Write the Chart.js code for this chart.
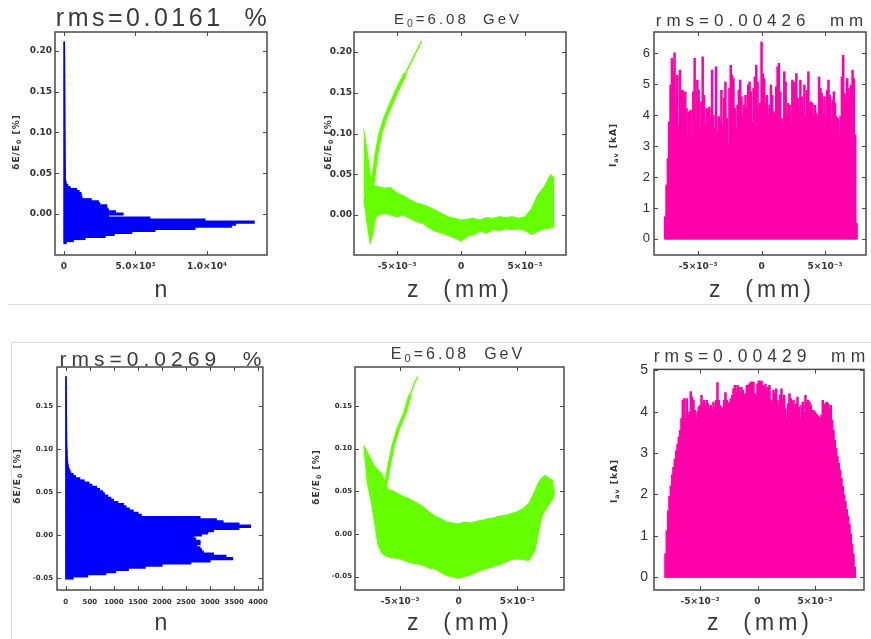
<!DOCTYPE html>
<html>
<head>
<meta charset="utf-8">
<script src="https://cdn.jsdelivr.net/npm/chart.js@4.4.0/dist/chart.umd.min.js"></script>
<style>
  body { margin: 0; background: #fff; width: 871px; height: 639px; position: relative; overflow: hidden; }
  canvas { position: absolute; }
  .t { position: absolute; transform: translate(-50%, -50%); white-space: pre; line-height: 1;
       font-family: "Liberation Sans", sans-serif; color: #3a3a3a; }
  .yt { position: absolute; transform: translate(-50%, -50%) rotate(-90deg); white-space: pre; line-height: 1;
        font: bold 9px "DejaVu Sans", sans-serif; color: #333; letter-spacing: 1px; }
  sub { font-size: 70%; vertical-align: -0.3em; line-height: 0; }
  .rule { position: absolute; background: #dcdcdc; }
</style>
</head>
<body>
<div class="rule" style="left:8px;top:304px;width:863px;height:1px"></div>
<div class="rule" style="left:11px;top:342px;width:860px;height:1px"></div>
<div class="rule" style="left:11px;top:342px;width:1px;height:297px"></div>

<canvas id="p1"></canvas>
<canvas id="p2"></canvas>
<canvas id="p3"></canvas>
<canvas id="p4"></canvas>
<canvas id="p5"></canvas>
<canvas id="p6"></canvas>

<!-- titles -->
<div class="t" style="left:163px;top:17px;font-size:25px;letter-spacing:3.5px">rms=0.0161  %</div>
<div class="t" style="left:458px;top:18px;font-size:15px;letter-spacing:3px">E<sub>0</sub>=6.08  GeV</div>
<div class="t" style="left:762px;top:20px;font-size:17px;letter-spacing:5px">rms=0.00426  mm</div>
<div class="t" style="left:163px;top:358px;font-size:21px;letter-spacing:5px">rms=0.0269  %</div>
<div class="t" style="left:458px;top:354px;font-size:16px;letter-spacing:3px">E<sub>0</sub>=6.08  GeV</div>
<div class="t" style="left:762px;top:357px;font-size:17.5px;letter-spacing:5px">rms=0.00429  mm</div>

<!-- x axis titles -->
<div class="t" style="left:161px;top:289px;font-size:23px">n</div>
<div class="t" style="left:460px;top:289px;font-size:23px;letter-spacing:4px">z  (mm)</div>
<div class="t" style="left:762px;top:289px;font-size:23px;letter-spacing:4px">z  (mm)</div>
<div class="t" style="left:161px;top:622px;font-size:23px">n</div>
<div class="t" style="left:460px;top:622px;font-size:23px;letter-spacing:4px">z  (mm)</div>
<div class="t" style="left:760px;top:622px;font-size:23px;letter-spacing:4px">z  (mm)</div>

<!-- y axis titles -->
<div class="yt" style="left:16px;top:142px">δE/E<sub>0</sub> [%]</div>
<div class="yt" style="left:328px;top:142px">δE/E<sub>0</sub> [%]</div>
<div class="yt" style="left:613px;top:145px">I<sub>av</sub> [kA]</div>
<div class="yt" style="left:17px;top:476px">δE/E<sub>0</sub> [%]</div>
<div class="yt" style="left:316px;top:477px">δE/E<sub>0</sub> [%]</div>
<div class="yt" style="left:614px;top:481px">I<sub>av</sub> [kA]</div>

<script>
// ---------- data ----------

// energy spectrum, top row: counts per δE/E0 bin (bins of 0.0025 %, first bin starts at -0.03625)
const specTopStart = -0.03625;
const specTopWidth = 0.0025;
const specTopCounts = [
  150, 650, 1470, 2870, 3500, 4730, 6360, 9160, 11700, 12000,
  13300, 9860, 6000, 3100, 4130, 3600, 3100, 3000, 2980, 2500,
  2400, 1900, 1250, 1200, 1190, 1050, 880, 420, 250, 150,
  120, 100, 80,
  100, 95, 90, 90, 85, 85, 80, 80, 80, 78,
  76, 75, 74, 72, 70, 70, 68, 68, 66, 65,
  64, 63, 62, 62, 60, 60, 60, 58, 58, 56,
  56, 55, 55, 54, 54, 52, 52, 50, 50, 50,
  48, 48, 47, 46, 45, 45, 44, 44, 43, 42,
  42, 41, 40, 40, 39, 38, 38, 37, 36, 35,
  34, 33, 32, 30, 28, 25
];

// energy spectrum, bottom row (bins of 0.0025 %, first bin starts at -0.05125)
const specBotStart = -0.05125;
const specBotWidth = 0.0025;
const specBotCounts = [
  150, 450, 830, 1035, 1300, 1650, 2000, 2600, 3000, 3470,
  3330, 3070, 2860, 2820, 2790, 2720, 2790, 2790, 2700, 2660,
  2820, 2950, 3070, 3600, 3840, 3600, 3270, 3130, 2790, 1570,
  1500, 1400, 1320, 1250, 1200, 1080, 990, 935, 870, 800,
  765, 700, 640, 540, 480, 380, 290, 200, 150, 100,
  80, 60, 50, 40,
  35, 30, 30, 25, 25, 25, 20, 20,
  18, 18, 18, 16, 16, 16, 15, 15, 15, 15,
  14, 14, 14, 14, 13, 13, 13, 12, 12, 12,
  12, 11, 11, 11, 10, 10, 10, 10, 9, 9,
  8, 8
];

// longitudinal phase space, top row: edges of the particle cloud (z in mm, δE/E0 in %)
const cloudTopZ = [
  -0.0076, -0.0073, -0.0071, -0.0069, -0.0067, -0.0065, -0.006, -0.0055, -0.005, -0.0045,
  -0.004, -0.0035, -0.003, -0.0025, -0.002, -0.0015, -0.001, -0.0005, 0, 0.0005,
  0.001, 0.0015, 0.002, 0.0025, 0.003, 0.0035, 0.004, 0.0045, 0.005, 0.0055,
  0.006, 0.0065, 0.007, 0.0073
];
const cloudTopUpper = [
  0.105, 0.075, 0.05, 0.038, 0.036, 0.035, 0.033, 0.034, 0.027, 0.024,
  0.019, 0.015, 0.013, 0.010, 0.006, 0.002, -0.002, -0.004, -0.006, -0.005,
  -0.004, -0.006, -0.003, -0.004, -0.002, -0.003, -0.002, -0.004, -0.002, 0.008,
  0.025, 0.035, 0.05, 0.045
];
const cloudTopLower = [
  0.02, -0.015, -0.035, -0.025, -0.005, 0.0, 0.002, 0.0, -0.002, 0.0,
  -0.004, -0.008, -0.01, -0.016, -0.02, -0.022, -0.025, -0.028, -0.032, -0.026,
  -0.024, -0.02, -0.022, -0.018, -0.019, -0.017, -0.018, -0.017, -0.019, -0.024,
  -0.02, -0.017, -0.016, -0.014
];
const tailTopZ = [-0.0069, -0.0066, -0.0063, -0.0059, -0.0055, -0.0050, -0.0044];
const tailTopE = [0.04, 0.075, 0.10, 0.12, 0.135, 0.153, 0.172];
const tailTopZ2 = [-0.0044, -0.0037, -0.0031];
const tailTopE2 = [0.172, 0.194, 0.213];

// longitudinal phase space, bottom row
const cloudBotZ = [
  -0.0081, -0.0078, -0.0075, -0.0072, -0.0069, -0.0066, -0.0063, -0.006, -0.0055, -0.005,
  -0.0045, -0.004, -0.0035, -0.003, -0.0025, -0.002, -0.0015, -0.001, -0.0005, 0,
  0.0005, 0.001, 0.0015, 0.002, 0.0025, 0.003, 0.0035, 0.004, 0.0045, 0.005,
  0.0055, 0.006, 0.0065, 0.0068, 0.0071, 0.0074, 0.0077, 0.008, 0.0082
];
const cloudBotUpper = [
  0.104, 0.096, 0.088, 0.08, 0.075, 0.072, 0.062, 0.052, 0.05, 0.046,
  0.043, 0.04, 0.036, 0.032, 0.026, 0.021, 0.018, 0.014, 0.013, 0.012,
  0.014, 0.013, 0.015, 0.016, 0.018, 0.019, 0.021, 0.022, 0.024, 0.026,
  0.03, 0.036, 0.05, 0.06, 0.066, 0.069, 0.066, 0.063, 0.048
];
const cloudBotLower = [
  0.102, 0.06, 0.04, 0.015, -0.012, -0.022, -0.025, -0.027, -0.028, -0.029,
  -0.032, -0.034, -0.035, -0.037, -0.04, -0.041, -0.045, -0.049, -0.05, -0.052,
  -0.05, -0.048, -0.045, -0.042, -0.04, -0.038, -0.036, -0.033, -0.03, -0.029,
  -0.03, -0.031, -0.02, 0.0, 0.02, 0.028, 0.034, 0.04, 0.046
];
const tailBotZ = [-0.0062, -0.0059, -0.0056, -0.0052, -0.0046, -0.0042];
const tailBotE = [0.06, 0.083, 0.103, 0.122, 0.1415, 0.161];
const tailBotZ2 = [-0.0042, -0.0038, -0.0035];
const tailBotE2 = [0.161, 0.176, 0.184];

// current profile, top row: kA per z slice, slices spread evenly over this z range (mm)
const currTopRange = [-0.00764, 0.00754];
const currTopKA = [
  0.71, 1.73, 2.59, 3.77, 4.96, 5.82, 5.4, 6.0, 4.42, 5.28,
  3.67, 5.44, 4.79, 4.79, 4.42, 4.74, 4.2, 3.24, 4.1, 4.15,
  3.24, 4.74, 5.82, 3.77, 5.12, 4.79, 3.45, 4.42, 5.87, 4.63,
  3.67, 4.2, 4.1, 4.25, 3.94, 5.44, 3.99, 3.56, 5.55, 3.45,
  3.94, 3.77, 4.79, 3.67, 4.53, 5.06, 3.88, 3.02, 4.85, 5.6,
  5.28, 5.17, 4.2, 3.56, 4.31, 4.79, 5.12, 4.58, 3.94, 4.31,
  4.63, 4.2, 4.96, 5.06, 4.74, 3.77, 4.85, 5.22, 5.6, 5.06,
  4.2, 4.37,
  6.35, 5.33, 5.17, 4.37, 4.63, 4.04, 4.31, 4.96, 4.63, 4.1,
  3.99, 4.9, 5.55, 5.66, 4.74, 3.88, 3.61, 5.39, 5.06, 3.99,
  4.37, 4.31, 3.72, 5.12, 5.06, 4.9, 5.33, 4.53, 4.15, 5.12,
  4.58, 4.04, 4.96, 3.99, 4.79, 5.39, 4.37, 4.42, 4.37, 3.99,
  4.31, 4.04, 3.88, 5.22, 4.85, 4.69, 4.04, 4.58, 3.94, 4.79,
  5.12, 4.63, 3.77, 4.47, 4.74, 4.37, 3.94, 3.88, 3.35, 3.94,
  5.22, 5.92, 4.69, 4.47, 5.17, 4.85, 4.58, 4.96, 5.44, 5.17,
  3.35, 0.5
];

// current profile, bottom row
const currBotRange = [-0.00806, 0.00852];
const currBotKA = [
  0.56, 1.12, 1.6, 1.95, 2.2, 2.47, 2.65, 2.85, 3.05, 3.2,
  3.39, 3.55, 3.83, 4.27, 4.31, 3.83, 4.31, 3.91, 3.99, 4.48,
  4.35, 4.27, 4.03, 3.83, 3.99, 4.11, 4.15, 4.39, 4.19, 4.27,
  4.15, 4.27, 4.19, 4.07, 4.15, 4.03, 4.23, 4.11, 4.27, 4.7,
  4.27, 4.15, 4.07, 4.11, 4.27, 4.46, 4.27, 4.19, 4.23, 4.31,
  4.39, 4.55, 4.63, 4.47, 4.63, 4.59, 4.47, 4.59, 4.51, 4.39,
  4.43, 4.63, 4.63, 4.67, 4.71, 4.71, 4.71, 4.43, 4.39, 4.67,
  4.74, 4.71,
  4.74, 4.63, 4.59, 4.66, 4.51, 4.59, 4.63, 4.27, 4.23, 4.51,
  4.43, 4.55, 4.27, 4.15, 4.39, 4.55, 4.31, 4.39, 4.07, 3.83,
  4.19, 4.43, 4.31, 4.23, 4.27, 4.11, 4.19, 4.35, 4.11, 3.83,
  4.15, 4.23, 3.99, 4.39, 4.23, 4.27, 4.23, 4.15, 4.03, 4.03,
  3.99, 3.95, 3.91, 3.87, 3.83, 3.91, 4.27, 4.15, 4.19, 4.23,
  4.19, 4.07, 4.15, 3.79, 3.55, 3.31, 3.11, 2.91, 2.75, 2.59,
  2.39, 2.19, 1.99, 1.83, 1.63, 1.47, 1.28, 1.04, 0.8, 0.56,
  0.24
];

// tick values and their labels
const eTopTicks = [0, 0.05, 0.10, 0.15, 0.20];
const eTopLabels = ['0.00', '0.05', '0.10', '0.15', '0.20'];
const eBotTicks = [-0.05, 0, 0.05, 0.10, 0.15];
const eBotLabels = ['-0.05', '0.00', '0.05', '0.10', '0.15'];
const nTopTicks = [0, 5000, 10000];
const nTopLabels = ['0', '5.0×10³', '1.0×10⁴'];
const nBotTicks = [0, 500, 1000, 1500, 2000, 2500, 3000, 3500, 4000];
const nBotLabels = ['0', '500', '1000', '1500', '2000', '2500', '3000', '3500', '4000'];
const zTicks = [-0.005, 0, 0.005];
const zLabels = ['-5×10⁻³', '0', '5×10⁻³'];
const iTopTicks = [0, 1, 2, 3, 4, 5, 6];
const iTopLabels = ['0', '1', '2', '3', '4', '5', '6'];
const iBotTicks = [0, 1, 2, 3, 4, 5];
const iBotLabels = ['0', '1', '2', '3', '4', '5'];

// ---------- drawing ----------
const AXW = 50, AXH = 26, PADT = 12, PADR = 8;
const BLUE = '#0000ff', GREEN = '#66ff00', PINK = '#ff00aa';
const fSmall = { family: 'DejaVu Sans', size: 9, weight: 'bold' };
const fTiny = { family: 'DejaVu Sans', size: 7, weight: 'bold' };
const fCurTop = { family: 'Liberation Sans', size: 13 };
const fCurBot = { family: 'Liberation Sans', size: 14 };

const histPoints = (start, width, counts) => counts.map((c, i) => ({ x: c, y: start + (i + 0.5) * width }));
const slicePoints = (range, vals) => {
  const w = (range[1] - range[0]) / vals.length;
  return vals.map((v, i) => ({ x: range[0] + (i + 0.5) * w, y: v }));
};
const zip = (xs, ys) => xs.map((x, i) => ({ x: x, y: ys[i] }));

// IDL style box with inward ticks on every side
const idlFrame = {
  id: 'idlFrame',
  afterDraw(chart) {
    const { ctx, chartArea: a, scales } = chart;
    ctx.save();
    ctx.strokeStyle = '#4a4a4a';
    ctx.lineWidth = 1.5;
    ctx.strokeRect(a.left, a.top, a.right - a.left, a.bottom - a.top);
    ctx.lineWidth = 1;
    ctx.beginPath();
    scales.x.ticks.forEach(t => {
      const px = Math.round(scales.x.getPixelForValue(t.value)) + 0.5;
      ctx.moveTo(px, a.bottom); ctx.lineTo(px, a.bottom - 4);
      ctx.moveTo(px, a.top); ctx.lineTo(px, a.top + 4);
    });
    scales.y.ticks.forEach(t => {
      const py = Math.round(scales.y.getPixelForValue(t.value)) + 0.5;
      ctx.moveTo(a.left, py); ctx.lineTo(a.left + 4, py);
      ctx.moveTo(a.right, py); ctx.lineTo(a.right - 4, py);
    });
    ctx.stroke();
    ctx.restore();
  }
};

function axis(min, max, ticks, labels, font, pad, isX) {
  return {
    type: 'linear', min: min, max: max, offset: false,
    grid: { display: false, drawTicks: false },
    border: { display: false },
    afterBuildTicks: s => { s.ticks = ticks.map(v => ({ value: v })); },
    afterFit: s => { if (isX) s.height = AXH; else s.width = AXW; },
    ticks: { font: font, color: '#333', padding: pad, autoSkip: false, maxRotation: 0, minRotation: 0,
             callback: (v, i) => labels[i] }
  };
}

function panel(id, box, type, datasets, xAxis, yAxis, indexAxis) {
  const cv = document.getElementById(id);
  cv.width = AXW + (box.R - box.L) + PADR;
  cv.height = PADT + (box.B - box.T) + AXH;
  cv.style.left = (box.L - AXW) + 'px';
  cv.style.top = (box.T - PADT) + 'px';
  return new Chart(cv, {
    type: type,
    data: { datasets: datasets },
    options: {
      responsive: false, animation: false, devicePixelRatio: 1,
      indexAxis: indexAxis || 'x',
      layout: { padding: { top: PADT, right: PADR, left: 0, bottom: 0 } },
      plugins: { legend: { display: false }, tooltip: { enabled: false } },
      scales: { x: xAxis, y: yAxis }
    },
    plugins: [idlFrame]
  });
}

const barStyle = (color) => ({ backgroundColor: color, borderWidth: 0, barPercentage: 1, categoryPercentage: 1, inflateAmount: 0.6 });
const lineStyle = { pointRadius: 0, tension: 0, borderColor: GREEN, backgroundColor: GREEN };

// top row
panel('p1', { L: 55, T: 32, R: 267, B: 255 }, 'bar',
  [Object.assign({ data: histPoints(specTopStart, specTopWidth, specTopCounts) }, barStyle(BLUE))],
  axis(-630, 14200, nTopTicks, nTopLabels, fSmall, 6, true),
  axis(-0.0503, 0.2233, eTopTicks, eTopLabels, fSmall, 3, false), 'y');

panel('p2', { L: 354, T: 32, R: 566, B: 255 }, 'line', [
    Object.assign({ data: zip(cloudTopZ, cloudTopUpper), borderWidth: 1, fill: '+1' }, lineStyle),
    Object.assign({ data: zip(cloudTopZ, cloudTopLower), borderWidth: 1, fill: false }, lineStyle),
    Object.assign({ data: zip(tailTopZ, tailTopE), borderWidth: 4, fill: false, borderCapStyle: 'round', borderJoinStyle: 'round' }, lineStyle),
    Object.assign({ data: zip(tailTopZ2, tailTopE2), borderWidth: 1.5, fill: false, borderCapStyle: 'round' }, lineStyle)
  ],
  axis(-0.00836, 0.0082, zTicks, zLabels, fSmall, 6, true),
  axis(-0.049, 0.2245, eTopTicks, eTopLabels, fSmall, 2, false));

panel('p3', { L: 654, T: 32, R: 866, B: 255 }, 'bar',
  [Object.assign({ data: slicePoints(currTopRange, currTopKA) }, barStyle(PINK))],
  axis(-0.00847, 0.00823, zTicks, zLabels, fSmall, 6, true),
  axis(-0.52, 6.68, iTopTicks, iTopLabels, fCurTop, 4, false));

// bottom row
panel('p4', { L: 57, T: 367, R: 268, B: 590 }, 'bar',
  [Object.assign({ data: histPoints(specBotStart, specBotWidth, specBotCounts) }, barStyle(BLUE))],
  axis(-183, 4100, nBotTicks, nBotLabels, fTiny, 8, true),
  axis(-0.064, 0.195, eBotTicks, eBotLabels, fTiny, 4, false), 'y');

panel('p5', { L: 355, T: 367, R: 564, B: 590 }, 'line', [
    Object.assign({ data: zip(cloudBotZ, cloudBotUpper), borderWidth: 1, fill: '+1' }, lineStyle),
    Object.assign({ data: zip(cloudBotZ, cloudBotLower), borderWidth: 1, fill: false }, lineStyle),
    Object.assign({ data: zip(tailBotZ, tailBotE), borderWidth: 3.5, fill: false, borderCapStyle: 'round', borderJoinStyle: 'round' }, lineStyle),
    Object.assign({ data: zip(tailBotZ2, tailBotE2), borderWidth: 1.5, fill: false, borderCapStyle: 'round' }, lineStyle)
  ],
  axis(-0.00885, 0.0090, zTicks, zLabels, fSmall, 6, true),
  axis(-0.0656, 0.1957, eBotTicks, eBotLabels, fTiny, 3, false));

panel('p6', { L: 654, T: 367, R: 864, B: 590 }, 'bar',
  [Object.assign({ data: slicePoints(currBotRange, currBotKA) }, barStyle(PINK))],
  axis(-0.0090, 0.00926, zTicks, zLabels, fSmall, 6, true),
  axis(-0.31, 5.024, iBotTicks, iBotLabels, fCurBot, 6, false));
</script>
</body>
</html>
